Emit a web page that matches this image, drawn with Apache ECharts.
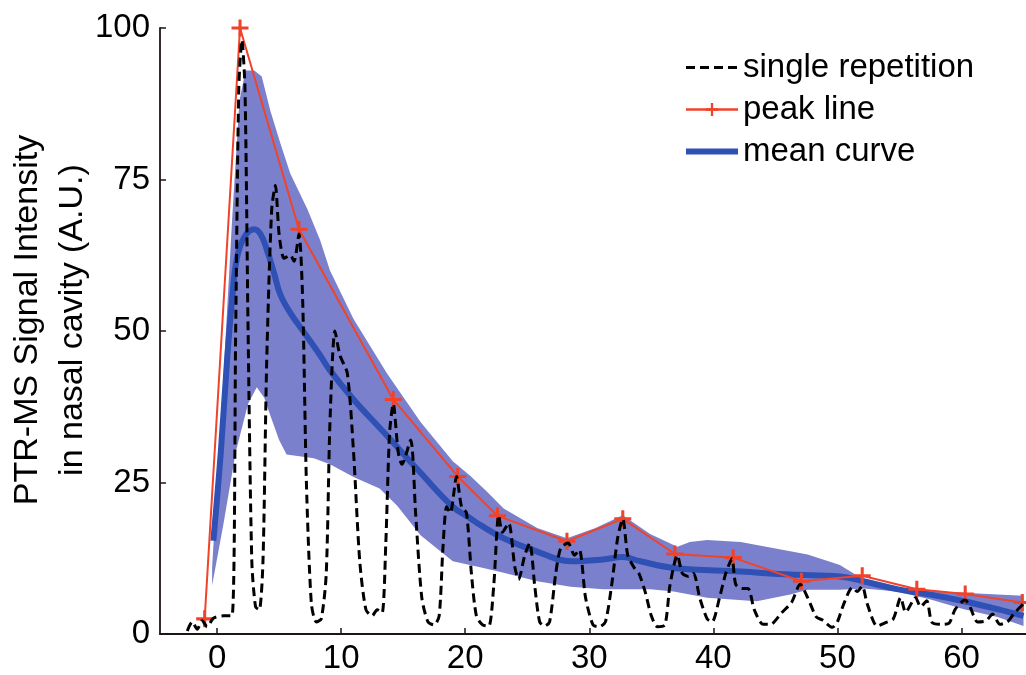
<!DOCTYPE html>
<html>
<head>
<meta charset="utf-8">
<script src="https://cdn.jsdelivr.net/npm/echarts@6/dist/echarts.min.js"></script>
<style>
html,body{margin:0;padding:0;background:#fff;}
#chart{width:1026px;height:675px;}
</style>
</head>
<body>
<div id="chart"></div>
<script>
// ---- data ----
const xTicks = [0, 10, 20, 30, 40, 50, 60];
const yTicks = [0, 25, 50, 75, 100];
const xRange = [-4.6, 65.2];

const singleX = [-2.4,-2.0,-1.6,-1.2,-0.8,-0.3,0.5,1.2,1.5,1.75,2.0,2.25,2.5,2.8,3.1,3.4,3.7,4.0,4.4,4.7,5.0,5.4,5.9,6.2,6.6,6.9,7.2,7.6,8.0,8.4,8.8,9.1,9.5,9.9,10.5,11.0,11.5,12.0,12.5,12.9,13.3,13.6,13.9,14.2,14.6,14.9,15.6,16.0,16.5,17.0,17.5,17.9,18.2,18.5,18.8,19.3,19.7,20.1,20.5,20.9,21.4,21.9,22.3,22.7,23.0,23.5,24.0,24.3,24.8,25.2,25.6,26.0,26.4,26.8,27.3,27.7,28.3,28.8,29.2,29.7,30.3,30.8,31.3,31.8,32.3,32.7,33.1,33.6,34.0,34.5,35.0,35.5,36.1,36.5,37.1,37.5,38.0,38.4,38.9,39.5,39.9,40.5,41.0,41.5,41.8,42.3,42.8,43.3,44.0,44.6,45.5,46.3,47.0,47.6,48.3,48.8,49.6,50.0,50.5,51.2,51.6,52.0,52.4,53.2,53.8,54.5,55.1,55.5,56.3,56.7,57.2,57.6,58.3,59.0,59.5,60.3,60.7,61.3,62.0,62.5,63.1,63.7,64.2,65.0];
const singleY = [0.5,2.0,0.8,2.2,1.2,2.6,3.0,3.0,50,90,98,90,50,12,4.5,4.0,12,45,70,74,66,62,62.5,61.5,66,55,25,5,2,2.5,10,35,50,46,43,30,12,4,3,4,3.5,15,33,38,30,28,32,20,6,2,1.5,3,14,21,20,26,21,20,10,3,1.5,1.3,8,19.6,16.8,18.3,11,9,13,15,8,2,1.3,2,10,14.2,15,13,13.9,6,1.5,1.2,2,8,16,19,13,11,10,7,3,1.2,1.5,8,13,10,9.5,10,6,2.5,2,6,10,12.4,8.2,7.5,7.5,4,1.6,1.6,3.5,5.2,8.2,6,2.8,2.3,1.1,2,4.9,7.7,7,7.9,5,1.3,1.8,2.5,6,3.6,6,4.5,5.5,2,1.6,1.8,4.1,5.6,4.4,2,2.2,3.3,1.6,2,3.3,5];

const peakX = [-1.0, 1.85, 6.6, 14.2, 19.4, 22.6, 28.2, 32.7, 36.9, 41.6, 47.1, 52.0, 56.4, 60.3, 64.9];
const peakY = [2.5, 100, 66.8, 38.7, 26.0, 19.5, 15.3, 19.0, 13.2, 12.6, 8.7, 9.6, 7.4, 6.6, 5.2];

const meanX = [-0.3,0.3,0.8,1.2,1.6,2.2,3.0,3.5,4.0,4.6,5.1,5.9,7.1,8.3,9.1,11.0,13.7,16.4,19.0,20.4,21.2,23.1,25.8,28.5,31.1,32.7,34.1,36.8,42.2,46.2,50.2,52.1,54.8,57.5,60.2,62.9,65.0];
const meanY = [15.4,30,45,55,62,65.5,66.8,66,63.5,59.5,56,53,49.5,46,43.5,38.7,32.7,26.6,21,19.1,18,15.8,13.6,12,12.3,12.7,12,10.9,10.3,9.8,9.5,8.7,7.4,6.5,5.4,4.1,3];

const upperX = [-0.4,0.5,1.2,1.8,2.3,3.0,3.6,4.3,5.1,5.9,7.3,8.3,9.1,11.0,13.7,16.4,19.0,20.4,21.8,23.1,25.8,28.2,30.5,32.7,34.9,37.1,38.1,39.5,42.2,44.8,47.6,50.2,52.1,54.8,57.5,60.2,62.9,65.0];
const upperY = [11,42,68,88,93,93,92,86.3,81,76,70,65,60,52,43,35,28.5,26.1,23.4,20.7,17.5,15.8,17.5,19.6,16.5,14.4,15.2,15.5,15.2,14.2,13.1,11.4,9,7.6,7.1,6.8,6.5,6.3];
const lowerX = [-0.4,0.5,1.5,2.5,3.2,3.8,4.3,5.0,5.6,7.8,9.1,11.0,13.1,14.5,16.4,19.0,21.2,23.1,25.8,28.5,31.1,34.9,36.8,39.5,43.5,46.2,47.6,50.2,52.1,54.8,57.5,60.2,62.9,65.0];
const lowerY = [8,18,30,38,40.7,39,36,32,29.6,29,28,25.9,24,21.2,16.3,12,11,10.1,8.7,7.8,7.4,7.4,7,6,5.4,6.5,7.3,7.3,7.5,7.0,5.7,4.1,2.8,1.3];

const names = ['single repetition', 'peak line', 'mean curve'];
const yTitle = ['PTR-MS Signal Intensity', 'in nasal cavity (A.U.)'];

// ---- build ----
const zip = (xs, ys) => xs.map((x, i) => [x, ys[i]]);
const FONT = '"Liberation Sans", Arial, sans-serif';
const PLUS = 'path://M4.1,0h1.8v4.1h4.1v1.8h-4.1v4.1h-1.8v-4.1h-4.1v-1.8h4.1z';
const AXIS_COLOR = '#1f1414';

function axisBase(margin) {
  return {
    show: true,
    axisLine: {show: true, onZero: false, lineStyle: {color: AXIS_COLOR, width: 1.8}},
    axisTick: {show: true, inside: true, length: 6, lineStyle: {color: AXIS_COLOR, width: 1.5}},
    splitLine: {show: false},
    axisLabel: {color: '#000', fontSize: 33, fontFamily: FONT, margin: margin}
  };
}
const hideSym = {color: 'transparent', borderColor: 'transparent', borderWidth: 0};

const xAxisOpt = axisBase(8);
Object.assign(xAxisOpt, {type: 'value', position: 'bottom', min: xRange[0], max: xRange[1]});
Object.assign(xAxisOpt.axisLabel, {
  showMinLabel: false, showMaxLabel: false,
  formatter: v => (xTicks.indexOf(v) >= 0 ? String(v) : '')
});
const yAxisOpt = axisBase(10);
Object.assign(yAxisOpt, {type: 'value', position: 'left', min: yTicks[0], max: yTicks[yTicks.length - 1], interval: 25});

const chart = echarts.init(document.getElementById('chart'), null, {renderer: 'canvas'});
chart.setOption({
  animation: false,
  backgroundColor: '#fff',
  grid: {left: 160, right: 0, top: 28, bottom: 35, containLabel: false},
  xAxis: xAxisOpt,
  yAxis: yAxisOpt,
  legend: {
    data: [
      {name: names[0], itemStyle: hideSym, lineStyle: {width: 3, type: [9, 5], color: '#000'}},
      {name: names[1], lineStyle: {width: 2.5, color: '#f0432a'}},
      {name: names[2], itemStyle: hideSym, lineStyle: {width: 6, color: '#2f50b4'}}
    ],
    orient: 'vertical', left: 683, top: 51,
    itemWidth: 52, itemHeight: 16, itemGap: 9, padding: 0,
    textStyle: {fontSize: 33, color: '#000', fontFamily: FONT}
  },
  graphic: [{
    type: 'text', x: 50, y: 320, rotation: Math.PI / 2,
    style: {text: yTitle.join('\n'), font: '34px ' + FONT, fill: '#000',
            align: 'center', verticalAlign: 'middle', lineHeight: 45}
  }],
  series: [
    {
      type: 'custom', name: 'band', silent: true, clip: true, z: 1,
      data: [[0, 0]],
      renderItem: function (params, api) {
        const pts = zip(upperX, upperY).map(p => api.coord(p))
          .concat(zip(lowerX, lowerY).reverse().map(p => api.coord(p)));
        return {type: 'polygon', shape: {points: pts}, style: {fill: '#7b80cc'}};
      }
    },
    {
      type: 'line', name: names[2], data: zip(meanX, meanY), z: 2,
      smooth: 0.4, showSymbol: false, symbol: 'none',
      lineStyle: {color: '#2f50b4', width: 6}, itemStyle: {color: '#2f50b4'}
    },
    {
      type: 'line', name: names[1], data: zip(peakX, peakY), z: 3,
      symbol: PLUS, symbolSize: 17, showSymbol: true,
      lineStyle: {color: '#f0432a', width: 2}, itemStyle: {color: '#f0432a'}
    },
    {
      type: 'line', name: names[0], data: zip(singleX, singleY), z: 4,
      smooth: 0.25, showSymbol: false, symbol: 'none',
      lineStyle: {color: '#000', width: 3, type: [9, 5]}, itemStyle: {color: '#000'}
    }
  ]
});
</script>
</body>
</html>
